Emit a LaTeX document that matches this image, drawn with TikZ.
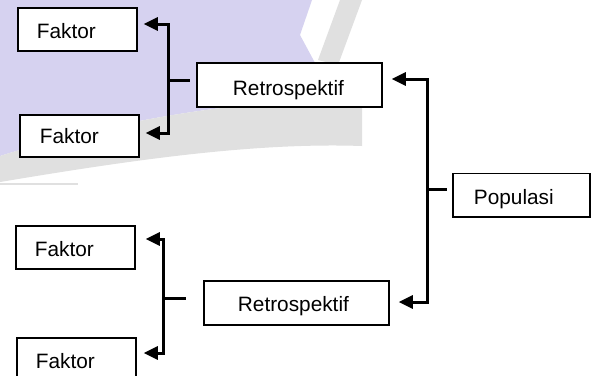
\documentclass[tikz,border=0pt]{standalone}
\usepackage{fontspec}
\setmainfont{Liberation Sans}
\usetikzlibrary{arrows.meta,calc}
\definecolor{wmlav}{RGB}{214,210,240}
\definecolor{wmgray}{RGB}{224,224,224}
\begin{document}
\begin{tikzpicture}[x=1pt,y=-1pt,
  box/.style={draw,fill=white,line width=1.5pt,inner sep=0pt,minimum height=43pt},
  txt/.style={inner sep=0pt,anchor=base west,font=\fontsize{20.8}{24}\selectfont},
  conn/.style={line width=3pt,line join=miter},
  arr/.style={conn,-{Triangle[length=14pt,width=13pt]}}]
\useasboundingbox (0,0) rectangle (593,375);
\fill[white] (0,0) rectangle (593,375);
% faint watermark in the background
\fill[wmlav] (0,0) -- (312,0) -- (300,35) -- (335,100) .. controls (250,100) and (120,118) .. (0,156) -- cycle;
\fill[wmgray] (362,98) -- (335,100) .. controls (250,100) and (120,118) .. (0,156) -- (0,182) .. controls (120,162) and (250,142) .. (362,146) -- cycle;
\fill[wmgray] (340,0) -- (362,0) -- (338,65) -- (318,60) -- cycle;
\draw[wmgray,line width=1.5pt] (0,184) -- (78,184);
% boxes
\node[box,minimum width=119pt] (f1) at (77.5,29.5) {};
\node[box,minimum width=119pt,minimum height=42pt] (f2) at (79.5,136) {};
\node[box,minimum width=185pt,minimum height=44pt] (r1) at (289.5,85) {};
\node[box,minimum width=119pt] (f3) at (75.5,247.5) {};
\node[box,minimum width=119pt] (f4) at (76.5,359.5) {};
\node[box,minimum width=185pt,minimum height=44pt] (r2) at (296.5,303) {};
\node[box,minimum width=137pt,minimum height=43.5pt] (p) at (521.5,195) {};
% texts
\node[txt] (tf1) at ($(f1.west)+(19.5,8.5)$) {Faktor};
\node[txt] (tf2) at ($(f2.west)+(20.5,7)$) {Faktor};
\node[txt] (tr1) at ($(r1.west)+(36.5,10)$) {Retrospektif};
\node[txt] (tf3) at ($(f3.west)+(19.5,8.5)$) {Faktor};
\node[txt] (tf4) at ($(f4.west)+(19.5,8.5)$) {Faktor};
\node[txt] (tr2) at ($(r2.west)+(34.5,8)$) {Retrospektif};
\node[txt] (tp) at ($(p.west)+(21.5,9)$) {Populasi};
% junctions
\coordinate (j1) at (168,80);
\coordinate (j2) at (163.5,298);
\coordinate (j3) at (427,189);
% connectors
\draw[arr] (j1) |- ([xshift=6pt,yshift=5.5pt]f1.east);
\draw[arr] (j1) |- ([xshift=6pt,yshift=3pt]f2.east);
\draw[conn] (j1) -- ([xshift=-6pt,yshift=5pt]r1.west);
\draw[arr] (j2) |- ([xshift=10pt,yshift=8.5pt]f3.east);
\draw[arr] (j2) |- ([xshift=7pt,yshift=6.5pt]f4.east);
\draw[conn] (j2) -- ([xshift=-17pt,yshift=5pt]r2.west);
\draw[arr] (j3) |- ([xshift=9pt,yshift=6pt]r1.east);
\draw[arr] (j3) |- ([xshift=9pt,yshift=1pt]r2.east);
\draw[conn] (j3) -- ([xshift=-5pt,yshift=6pt]p.west);
\end{tikzpicture}
\end{document}
